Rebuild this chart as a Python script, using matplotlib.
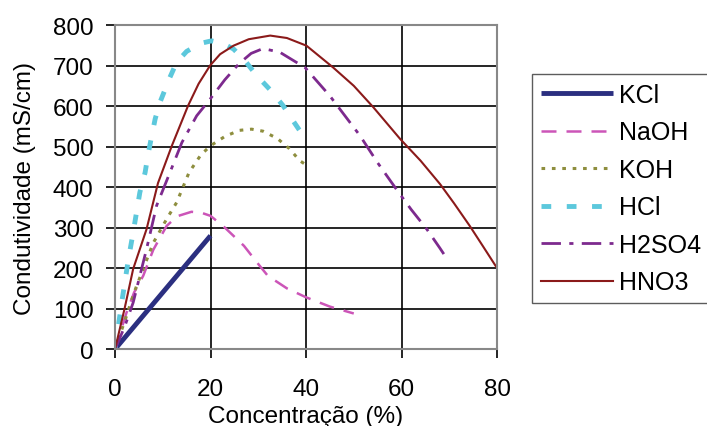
import matplotlib.pyplot as plt

plt.rcParams['font.family'] = ['Liberation Sans', 'DejaVu Sans']

# conductivity curves, conc (%) vs mS/cm
kcl_x = [0, 20]
kcl_y = [0, 280]

naoh_x = [0, 2.4, 4, 5.9, 8, 10.8, 13, 16, 18, 20, 23, 27, 30, 32, 36, 40, 45, 50]
naoh_y = [0, 90, 140, 181, 245, 304, 328, 339, 337, 329, 300, 255, 210, 181, 150, 128, 105, 88]

koh_x = [0, 2.4, 4, 5.9, 8, 10.8, 12.9, 15.5, 18, 20, 23, 26, 28.6, 31, 34, 36.5, 38.7, 40]
koh_y = [0, 82, 140, 198, 262, 321, 362, 436, 480, 502, 525, 540, 543, 538, 520, 495, 465, 455]

hcl_x = [0, 1.4, 2.8, 3.8, 5.2, 6.3, 7, 8.4, 9.4, 11.5, 12.9, 15, 18, 20.2, 22.5, 24.8, 27, 29.7, 32.5, 35.2, 37.5, 39.8]
hcl_y = [0, 115, 222, 288, 387, 436, 486, 568, 609, 671, 708, 735, 755, 761, 755, 741, 715, 675, 640, 601, 560, 520]

h2so4_x = [0, 2, 3.8, 6.6, 8.7, 11.5, 14, 17.1, 19.9, 23, 26, 28.5, 31, 34.5, 37, 39.8, 45, 51.3, 55, 58.9, 62, 65.3, 68, 69.8]
h2so4_y = [0, 55, 115, 247, 354, 436, 510, 576, 617, 665, 705, 730, 742, 733, 715, 695, 625, 527, 460, 395, 345, 296, 250, 218]

hno3_x = [0, 2, 3.8, 6.6, 9, 11.9, 15.3, 17.5, 19.9, 22, 24.8, 28, 32.5, 36, 40.1, 45.7, 50, 54.1, 59.7, 64, 68.1, 71, 74.3, 77, 79.9]
hno3_y = [0, 100, 198, 296, 410, 502, 601, 655, 700, 728, 749, 765, 774, 768, 749, 695, 650, 597, 519, 465, 407, 360, 304, 255, 202]

fig = plt.figure(figsize=(7.07, 4.27), dpi=100)
ax = fig.add_axes([0.1627, 0.180, 0.5403, 0.759])

ax.plot(kcl_x, kcl_y, color='#2b2f80', lw=3.5, solid_capstyle='butt', label='KCl')
ax.plot(naoh_x, naoh_y, color='#cc55b8', lw=1.8, dashes=(6, 4), label='NaOH')
ax.plot(koh_x, koh_y, color='#8e8e3e', lw=2.2, dashes=(1.2, 2.2), label='KOH')
ax.plot(hcl_x, hcl_y, color='#5cc8dc', lw=3.5, dashes=(2, 3.2), label='HCl')
ax.plot(h2so4_x, h2so4_y, color='#7d2a8e', lw=2.0, dashes=(7, 3, 1.5, 3), label='H2SO4')
ax.plot(hno3_x, hno3_y, color='#8b1a1a', lw=1.5, label='HNO3')

ax.set_xlim(0, 80)
ax.set_ylim(0, 800)
ax.set_xticks(range(0, 81, 20))
ax.set_yticks(range(0, 801, 100))
ax.grid(True, color='black', lw=1.2)
ax.set_axisbelow(True)
for s in ax.spines.values():
    s.set_color('#888888')
    s.set_linewidth(1.5)
ax.tick_params(labelsize=17.5, length=6.5, width=1.2, color='black', pad=9)
ax.tick_params(axis='x', pad=14)

ax.set_xlabel('Concentração (%)', fontsize=17.5, labelpad=4)
ax.set_ylabel('Condutividade (mS/cm)', fontsize=17.5, labelpad=12)

leg = fig.legend(loc='upper left', bbox_to_anchor=(0.7525, 0.8244), borderaxespad=0,
                 fontsize=18, labelspacing=0.54, handlelength=2.88, handletextpad=0.25,
                 fancybox=False, edgecolor='#333333', borderpad=0.36)
leg.get_frame().set_linewidth(1.0)

fig.savefig('out.png', dpi=100)
